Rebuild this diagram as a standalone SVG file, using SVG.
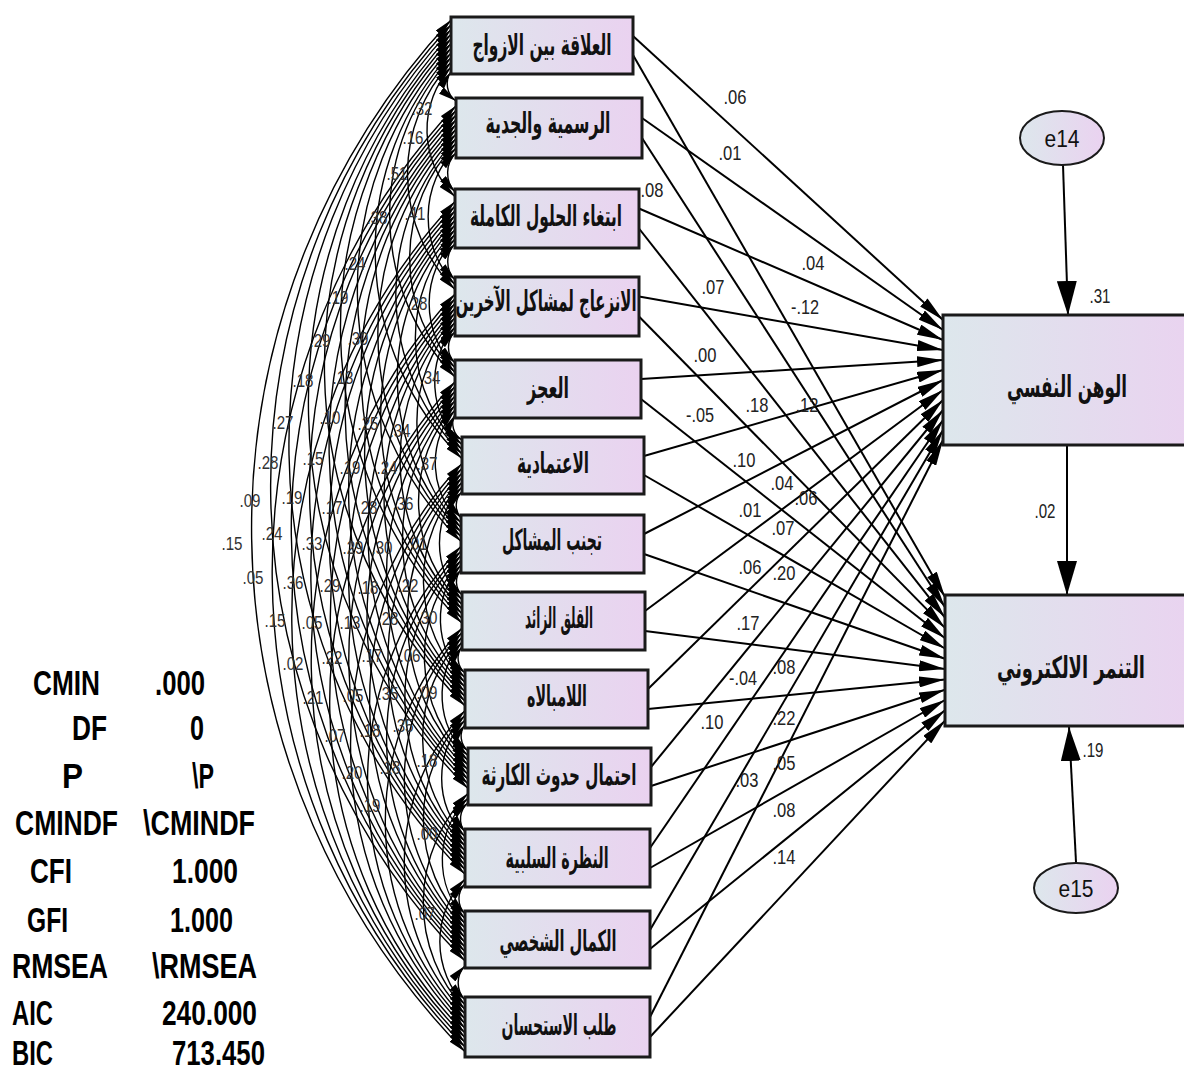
<svg xmlns="http://www.w3.org/2000/svg" width="1184" height="1070" viewBox="0 0 1184 1070">
<defs>
<linearGradient id="g" x1="0" y1="0" x2="1" y2="0"><stop offset="0" stop-color="#dde7ec"/><stop offset="1" stop-color="#ead2f0"/></linearGradient>
<marker id="ac" viewBox="0 0 18 8" refX="18" refY="4" markerWidth="18" markerHeight="8" markerUnits="userSpaceOnUse" orient="auto-start-reverse"><path d="M0,0 L18,4 L0,8 z" fill="#000"/></marker>
<marker id="ah" viewBox="0 0 26 11" refX="26" refY="5.5" markerWidth="26" markerHeight="11" markerUnits="userSpaceOnUse" orient="auto"><path d="M0,0 L26,5.5 L0,11 z" fill="#000"/></marker>
<marker id="ab" viewBox="0 0 34 20" refX="34" refY="10" markerWidth="34" markerHeight="20" markerUnits="userSpaceOnUse" orient="auto"><path d="M0,0 L34,10 L0,20 z" fill="#000"/></marker>
</defs>
<style>
.box{fill:url(#g);stroke:#1a1a1a;stroke-width:3}
.ell{fill:url(#g);stroke:#1a1a1a;stroke-width:2}
.ar{font-family:"DejaVu Sans","Noto Sans",sans-serif;font-weight:bold;font-size:29px;text-anchor:middle;fill:#111}
.arb{font-family:"DejaVu Sans","Noto Sans",sans-serif;font-weight:bold;font-size:30px;text-anchor:middle;fill:#111}
.cov{fill:none;stroke:#000;stroke-width:1.4;marker-start:url(#ac);marker-end:url(#ac)}
.reg{stroke:#000;stroke-width:2;marker-end:url(#ah)}
.big{stroke:#000;stroke-width:2;marker-end:url(#ab)}
.lb{font-family:"Liberation Sans",Arial,sans-serif;font-size:20px;fill:#222;text-anchor:middle}
.cl{font-family:"Liberation Sans",Arial,sans-serif;font-size:19px;fill:#333;text-anchor:middle}
.st{font-family:"Liberation Sans",Arial,sans-serif;font-size:35px;font-weight:bold;fill:#000}
.et{font-family:"Liberation Sans",Arial,sans-serif;font-size:24px;fill:#111;text-anchor:middle}
</style>
<rect width="1184" height="1070" fill="#fff"/>
<g id="connectors">
<g id="covariances">
<path class="cov" d="M451 71.7A21.2 21.2 0 0 0 456 101"/>
<path class="cov" d="M451 67A94 94 0 0 0 455 196.7"/>
<path class="cov" d="M451 62.3A164.6 164.6 0 0 0 455 289.4"/>
<path class="cov" d="M451 57.6A233.1 233.1 0 0 0 455 377.1"/>
<path class="cov" d="M451 52.9A294.3 294.3 0 0 0 462 458.8"/>
<path class="cov" d="M451 48.2A358 358 0 0 0 461 541.5"/>
<path class="cov" d="M451 43.5A420.3 420.3 0 0 0 462 623.2"/>
<path class="cov" d="M451 38.8A483.6 483.6 0 0 0 465 705.9"/>
<path class="cov" d="M451 34.1A547 547 0 0 0 468 788.6"/>
<path class="cov" d="M451 29.4A612.6 612.6 0 0 0 465 874.3"/>
<path class="cov" d="M451 24.7A678.8 678.8 0 0 0 465 961"/>
<path class="cov" d="M451 20A748 748 0 0 0 465 1051.7"/>
<path class="cov" d="M456 152.7A28.5 28.5 0 0 0 455 192"/>
<path class="cov" d="M456 148A99.1 99.1 0 0 0 455 284.7"/>
<path class="cov" d="M456 143.3A166 166 0 0 0 455 372.4"/>
<path class="cov" d="M456 138.6A228.7 228.7 0 0 0 462 454.1"/>
<path class="cov" d="M456 133.9A292 292 0 0 0 461 536.8"/>
<path class="cov" d="M456 129.2A354.7 354.7 0 0 0 462 618.5"/>
<path class="cov" d="M456 124.5A418.1 418.1 0 0 0 465 701.2"/>
<path class="cov" d="M456 119.8A481.5 481.5 0 0 0 468 783.9"/>
<path class="cov" d="M456 115.1A547 547 0 0 0 465 869.6"/>
<path class="cov" d="M456 110.4A613.3 613.3 0 0 0 465 956.3"/>
<path class="cov" d="M456 105.7A682.4 682.4 0 0 0 465 1047"/>
<path class="cov" d="M455 243.7A26.3 26.3 0 0 0 455 280"/>
<path class="cov" d="M455 239A93 93 0 0 0 455 367.7"/>
<path class="cov" d="M455 234.3A155.9 155.9 0 0 0 462 449.4"/>
<path class="cov" d="M455 229.6A219 219 0 0 0 461 532.1"/>
<path class="cov" d="M455 224.9A282 282 0 0 0 462 613.8"/>
<path class="cov" d="M455 220.2A345.3 345.3 0 0 0 465 696.5"/>
<path class="cov" d="M455 215.5A408.7 408.7 0 0 0 468 779.2"/>
<path class="cov" d="M455 210.8A474.2 474.2 0 0 0 465 864.9"/>
<path class="cov" d="M455 206.1A540.5 540.5 0 0 0 465 951.6"/>
<path class="cov" d="M455 201.4A609.7 609.7 0 0 0 465 1042.3"/>
<path class="cov" d="M455 331.7A22 22 0 0 0 455 363"/>
<path class="cov" d="M455 327A85.3 85.3 0 0 0 462 444.7"/>
<path class="cov" d="M455 322.3A148.7 148.7 0 0 0 461 527.4"/>
<path class="cov" d="M455 317.6A211.3 211.3 0 0 0 462 609.1"/>
<path class="cov" d="M455 312.9A274.7 274.7 0 0 0 465 691.8"/>
<path class="cov" d="M455 308.2A338.1 338.1 0 0 0 468 774.5"/>
<path class="cov" d="M455 303.5A403.6 403.6 0 0 0 465 860.2"/>
<path class="cov" d="M455 298.8A469.9 469.9 0 0 0 465 946.9"/>
<path class="cov" d="M455 294.1A539 539 0 0 0 465 1037.6"/>
<path class="cov" d="M455 414.7A19.1 19.1 0 0 0 462 440"/>
<path class="cov" d="M455 410A81.7 81.7 0 0 0 461 522.7"/>
<path class="cov" d="M455 405.3A144.3 144.3 0 0 0 462 604.4"/>
<path class="cov" d="M455 400.6A207.7 207.7 0 0 0 465 687.1"/>
<path class="cov" d="M455 395.9A271 271 0 0 0 468 769.8"/>
<path class="cov" d="M455 391.2A336.6 336.6 0 0 0 465 855.5"/>
<path class="cov" d="M455 386.5A402.9 402.9 0 0 0 465 942.2"/>
<path class="cov" d="M455 381.8A472 472 0 0 0 465 1032.9"/>
<path class="cov" d="M462 491.7A19.1 19.1 0 0 0 461 518"/>
<path class="cov" d="M462 487A81.7 81.7 0 0 0 462 599.7"/>
<path class="cov" d="M462 482.3A145.1 145.1 0 0 0 465 682.4"/>
<path class="cov" d="M462 477.6A208.4 208.4 0 0 0 468 765.1"/>
<path class="cov" d="M462 472.9A274 274 0 0 0 465 850.8"/>
<path class="cov" d="M462 468.2A340.2 340.2 0 0 0 465 937.5"/>
<path class="cov" d="M462 463.5A409.4 409.4 0 0 0 465 1028.2"/>
<path class="cov" d="M461 569.7A18.4 18.4 0 0 0 462 595"/>
<path class="cov" d="M461 565A81.7 81.7 0 0 0 465 677.7"/>
<path class="cov" d="M461 560.3A145.1 145.1 0 0 0 468 760.4"/>
<path class="cov" d="M461 555.6A210.6 210.6 0 0 0 465 846.1"/>
<path class="cov" d="M461 550.9A276.9 276.9 0 0 0 465 932.8"/>
<path class="cov" d="M461 546.2A346 346 0 0 0 465 1023.5"/>
<path class="cov" d="M462 646.7A19.1 19.1 0 0 0 465 673"/>
<path class="cov" d="M462 642A82.4 82.4 0 0 0 468 755.7"/>
<path class="cov" d="M462 637.3A148 148 0 0 0 465 841.4"/>
<path class="cov" d="M462 632.6A214.2 214.2 0 0 0 465 928.1"/>
<path class="cov" d="M462 627.9A283.4 283.4 0 0 0 465 1018.8"/>
<path class="cov" d="M465 724.7A19.2 19.2 0 0 0 468 751"/>
<path class="cov" d="M465 720A84.6 84.6 0 0 0 465 836.7"/>
<path class="cov" d="M465 715.3A150.9 150.9 0 0 0 465 923.4"/>
<path class="cov" d="M465 710.6A220 220 0 0 0 465 1014.1"/>
<path class="cov" d="M468 802.7A21.3 21.3 0 0 0 465 832"/>
<path class="cov" d="M468 798A87.5 87.5 0 0 0 465 918.7"/>
<path class="cov" d="M468 793.3A156.7 156.7 0 0 0 465 1009.4"/>
<path class="cov" d="M465 883.7A22 22 0 0 0 465 914"/>
<path class="cov" d="M465 879A91.1 91.1 0 0 0 465 1004.7"/>
<path class="cov" d="M465 965.7A24.9 24.9 0 0 0 465 1000"/>
</g>
<g id="paths">
<line class="reg" x1="633" y1="36" x2="943" y2="320"/>
<line class="reg" x1="633" y1="55" x2="945" y2="597"/>
<line class="reg" x1="642" y1="118" x2="943" y2="330"/>
<line class="reg" x1="642" y1="138" x2="945" y2="607.3"/>
<line class="reg" x1="639" y1="208.5" x2="943" y2="340"/>
<line class="reg" x1="639" y1="228.5" x2="945" y2="617.6"/>
<line class="reg" x1="639" y1="296.5" x2="943" y2="350"/>
<line class="reg" x1="639" y1="316.5" x2="945" y2="627.9"/>
<line class="reg" x1="641" y1="379" x2="943" y2="360"/>
<line class="reg" x1="641" y1="399" x2="945" y2="638.2"/>
<line class="reg" x1="644" y1="456" x2="943" y2="370"/>
<line class="reg" x1="644" y1="475" x2="945" y2="648.5"/>
<line class="reg" x1="644" y1="534" x2="943" y2="380"/>
<line class="reg" x1="644" y1="554" x2="945" y2="658.8"/>
<line class="reg" x1="645" y1="611" x2="943" y2="390"/>
<line class="reg" x1="645" y1="631" x2="945" y2="669.1"/>
<line class="reg" x1="648" y1="689" x2="943" y2="400"/>
<line class="reg" x1="648" y1="709" x2="945" y2="679.4"/>
<line class="reg" x1="651" y1="767" x2="943" y2="410"/>
<line class="reg" x1="651" y1="786" x2="945" y2="689.7"/>
<line class="reg" x1="650" y1="848" x2="943" y2="420"/>
<line class="reg" x1="650" y1="868" x2="945" y2="700"/>
<line class="reg" x1="650" y1="930" x2="943" y2="430"/>
<line class="reg" x1="650" y1="949" x2="945" y2="710.3"/>
<line class="reg" x1="650" y1="1017" x2="943" y2="440"/>
<line class="reg" x1="650" y1="1037" x2="945" y2="720.6"/>
<line class="big" x1="1063" y1="165" x2="1068" y2="315"/>
<line class="big" x1="1067" y1="445" x2="1067" y2="595"/>
<line class="big" x1="1076" y1="862" x2="1069" y2="727"/>
</g>
</g>
<g id="v1"><rect class="box" x="451" y="17" width="182" height="57"/><text class="ar" transform="translate(542 55) scale(0.6 1)" textLength="231.7" lengthAdjust="spacingAndGlyphs">العلاقة بين الازواج</text></g>
<g id="v2"><rect class="box" x="456" y="98" width="186" height="60"/><text class="ar" transform="translate(548 133) scale(0.6 1)" textLength="208.3" lengthAdjust="spacingAndGlyphs">الرسمية والجدية</text></g>
<g id="v3"><rect class="box" x="455" y="189" width="184" height="59"/><text class="ar" transform="translate(546 226) scale(0.6 1)" textLength="253.3" lengthAdjust="spacingAndGlyphs">ابتغاء الحلول الكاملة</text></g>
<g id="v4"><rect class="box" x="455" y="277" width="184" height="59"/><text class="ar" transform="translate(546 311) scale(0.6 1)" textLength="301.7" lengthAdjust="spacingAndGlyphs">الانزعاج لمشاكل الآخرين</text></g>
<g id="v5"><rect class="box" x="455" y="360" width="186" height="58"/><text class="ar" transform="translate(548 398) scale(0.6 1)" textLength="70" lengthAdjust="spacingAndGlyphs">العجز</text></g>
<g id="v6"><rect class="box" x="462" y="437" width="182" height="57"/><text class="ar" transform="translate(553 473) scale(0.6 1)" textLength="120" lengthAdjust="spacingAndGlyphs">الاعتمادية</text></g>
<g id="v7"><rect class="box" x="461" y="515" width="183" height="58"/><text class="ar" transform="translate(552 550) scale(0.6 1)" textLength="166.7" lengthAdjust="spacingAndGlyphs">تجنب المشاكل</text></g>
<g id="v8"><rect class="box" x="462" y="592" width="183" height="58"/><text class="ar" transform="translate(559 628) scale(0.6 1)" textLength="113.3" lengthAdjust="spacingAndGlyphs">القلق الزائد</text></g>
<g id="v9"><rect class="box" x="465" y="670" width="183" height="58"/><text class="ar" transform="translate(557 706) scale(0.6 1)" textLength="100" lengthAdjust="spacingAndGlyphs">اللامبالاه</text></g>
<g id="v10"><rect class="box" x="468" y="748" width="183" height="57"/><text class="ar" transform="translate(559 785) scale(0.6 1)" textLength="258.3" lengthAdjust="spacingAndGlyphs">احتمال حدوث الكارثة</text></g>
<g id="v11"><rect class="box" x="465" y="829" width="185" height="58"/><text class="ar" transform="translate(557 868) scale(0.6 1)" textLength="171.7" lengthAdjust="spacingAndGlyphs">النظرة السلبية</text></g>
<g id="v12"><rect class="box" x="465" y="911" width="185" height="57"/><text class="ar" transform="translate(558 951) scale(0.6 1)" textLength="195" lengthAdjust="spacingAndGlyphs">الكمال الشخصي</text></g>
<g id="v13"><rect class="box" x="465" y="997" width="185" height="60"/><text class="ar" transform="translate(559 1035) scale(0.6 1)" textLength="191.7" lengthAdjust="spacingAndGlyphs">طلب الاستحسان</text></g>
<g id="y1"><rect class="box" x="943" y="315" width="260" height="130"/><text class="arb" transform="translate(1067 397) scale(0.6 1)" textLength="200" lengthAdjust="spacingAndGlyphs">الوهن النفسي</text></g>
<g id="y2"><rect class="box" x="945" y="595" width="260" height="131"/><text class="arb" transform="translate(1071 678) scale(0.6 1)" textLength="246.7" lengthAdjust="spacingAndGlyphs">التنمر الالكتروني</text></g>
<g id="e14"><ellipse class="ell" cx="1062" cy="138" rx="42" ry="27"/><text class="et" x="1062" y="147" textLength="35" lengthAdjust="spacingAndGlyphs">e14</text></g>
<g id="e15"><ellipse class="ell" cx="1076" cy="888" rx="42" ry="25"/><text class="et" x="1076" y="897" textLength="35" lengthAdjust="spacingAndGlyphs">e15</text></g>
<g id="path-labels">
<text class="lb" x="735" y="104" textLength="23" lengthAdjust="spacingAndGlyphs">.06</text>
<text class="lb" x="730" y="160" textLength="23" lengthAdjust="spacingAndGlyphs">.01</text>
<text class="lb" x="652" y="197" textLength="23" lengthAdjust="spacingAndGlyphs">.08</text>
<text class="lb" x="813" y="270" textLength="23" lengthAdjust="spacingAndGlyphs">.04</text>
<text class="lb" x="713" y="294" textLength="23" lengthAdjust="spacingAndGlyphs">.07</text>
<text class="lb" x="805" y="314" textLength="28" lengthAdjust="spacingAndGlyphs">-.12</text>
<text class="lb" x="705" y="362" textLength="23" lengthAdjust="spacingAndGlyphs">.00</text>
<text class="lb" x="700" y="422" textLength="28" lengthAdjust="spacingAndGlyphs">-.05</text>
<text class="lb" x="757" y="412" textLength="23" lengthAdjust="spacingAndGlyphs">.18</text>
<text class="lb" x="807" y="412" textLength="23" lengthAdjust="spacingAndGlyphs">.12</text>
<text class="lb" x="744" y="467" textLength="23" lengthAdjust="spacingAndGlyphs">.10</text>
<text class="lb" x="782" y="490" textLength="23" lengthAdjust="spacingAndGlyphs">.04</text>
<text class="lb" x="806" y="505" textLength="23" lengthAdjust="spacingAndGlyphs">.06</text>
<text class="lb" x="750" y="517" textLength="23" lengthAdjust="spacingAndGlyphs">.01</text>
<text class="lb" x="783" y="535" textLength="23" lengthAdjust="spacingAndGlyphs">.07</text>
<text class="lb" x="750" y="574" textLength="23" lengthAdjust="spacingAndGlyphs">.06</text>
<text class="lb" x="784" y="580" textLength="23" lengthAdjust="spacingAndGlyphs">.20</text>
<text class="lb" x="748" y="630" textLength="23" lengthAdjust="spacingAndGlyphs">.17</text>
<text class="lb" x="743" y="685" textLength="28" lengthAdjust="spacingAndGlyphs">-.04</text>
<text class="lb" x="784" y="674" textLength="23" lengthAdjust="spacingAndGlyphs">.08</text>
<text class="lb" x="712" y="729" textLength="23" lengthAdjust="spacingAndGlyphs">.10</text>
<text class="lb" x="784" y="725" textLength="23" lengthAdjust="spacingAndGlyphs">.22</text>
<text class="lb" x="784" y="770" textLength="23" lengthAdjust="spacingAndGlyphs">.05</text>
<text class="lb" x="747" y="787" textLength="23" lengthAdjust="spacingAndGlyphs">.03</text>
<text class="lb" x="784" y="817" textLength="23" lengthAdjust="spacingAndGlyphs">.08</text>
<text class="lb" x="784" y="864" textLength="23" lengthAdjust="spacingAndGlyphs">.14</text>
<text class="lb" x="1100" y="303" textLength="21" lengthAdjust="spacingAndGlyphs">.31</text>
<text class="lb" x="1045" y="518" textLength="21" lengthAdjust="spacingAndGlyphs">.02</text>
<text class="lb" x="1093" y="757" textLength="21" lengthAdjust="spacingAndGlyphs">.19</text>
</g>
<g id="cov-labels">
<text class="cl" x="422" y="115" textLength="21" lengthAdjust="spacingAndGlyphs">.32</text>
<text class="cl" x="413" y="144" textLength="21" lengthAdjust="spacingAndGlyphs">.16</text>
<text class="cl" x="397" y="180" textLength="21" lengthAdjust="spacingAndGlyphs">.51</text>
<text class="cl" x="377" y="224" textLength="21" lengthAdjust="spacingAndGlyphs">.38</text>
<text class="cl" x="415" y="220" textLength="21" lengthAdjust="spacingAndGlyphs">.41</text>
<text class="cl" x="355" y="270" textLength="21" lengthAdjust="spacingAndGlyphs">.24</text>
<text class="cl" x="338" y="304" textLength="21" lengthAdjust="spacingAndGlyphs">.19</text>
<text class="cl" x="417" y="310" textLength="21" lengthAdjust="spacingAndGlyphs">.28</text>
<text class="cl" x="320" y="347" textLength="21" lengthAdjust="spacingAndGlyphs">.29</text>
<text class="cl" x="358" y="345" textLength="21" lengthAdjust="spacingAndGlyphs">.39</text>
<text class="cl" x="303" y="387" textLength="21" lengthAdjust="spacingAndGlyphs">.18</text>
<text class="cl" x="343" y="384" textLength="21" lengthAdjust="spacingAndGlyphs">.13</text>
<text class="cl" x="430" y="384" textLength="21" lengthAdjust="spacingAndGlyphs">.34</text>
<text class="cl" x="283" y="429" textLength="21" lengthAdjust="spacingAndGlyphs">.27</text>
<text class="cl" x="330" y="424" textLength="21" lengthAdjust="spacingAndGlyphs">.10</text>
<text class="cl" x="368" y="430" textLength="21" lengthAdjust="spacingAndGlyphs">.25</text>
<text class="cl" x="400" y="437" textLength="21" lengthAdjust="spacingAndGlyphs">.34</text>
<text class="cl" x="268" y="469" textLength="21" lengthAdjust="spacingAndGlyphs">.28</text>
<text class="cl" x="313" y="465" textLength="21" lengthAdjust="spacingAndGlyphs">.15</text>
<text class="cl" x="350" y="474" textLength="21" lengthAdjust="spacingAndGlyphs">.19</text>
<text class="cl" x="387" y="474" textLength="21" lengthAdjust="spacingAndGlyphs">.24</text>
<text class="cl" x="427" y="470" textLength="21" lengthAdjust="spacingAndGlyphs">.37</text>
<text class="cl" x="250" y="507" textLength="21" lengthAdjust="spacingAndGlyphs">.09</text>
<text class="cl" x="292" y="504" textLength="21" lengthAdjust="spacingAndGlyphs">.19</text>
<text class="cl" x="332" y="514" textLength="21" lengthAdjust="spacingAndGlyphs">.17</text>
<text class="cl" x="367" y="514" textLength="21" lengthAdjust="spacingAndGlyphs">.28</text>
<text class="cl" x="403" y="510" textLength="21" lengthAdjust="spacingAndGlyphs">.36</text>
<text class="cl" x="232" y="550" textLength="21" lengthAdjust="spacingAndGlyphs">.15</text>
<text class="cl" x="272" y="540" textLength="21" lengthAdjust="spacingAndGlyphs">.24</text>
<text class="cl" x="312" y="550" textLength="21" lengthAdjust="spacingAndGlyphs">.33</text>
<text class="cl" x="353" y="554" textLength="21" lengthAdjust="spacingAndGlyphs">.29</text>
<text class="cl" x="382" y="554" textLength="21" lengthAdjust="spacingAndGlyphs">.30</text>
<text class="cl" x="417" y="550" textLength="21" lengthAdjust="spacingAndGlyphs">.01</text>
<text class="cl" x="253" y="584" textLength="21" lengthAdjust="spacingAndGlyphs">.05</text>
<text class="cl" x="293" y="589" textLength="21" lengthAdjust="spacingAndGlyphs">.36</text>
<text class="cl" x="330" y="592" textLength="21" lengthAdjust="spacingAndGlyphs">.29</text>
<text class="cl" x="368" y="594" textLength="21" lengthAdjust="spacingAndGlyphs">.18</text>
<text class="cl" x="408" y="592" textLength="21" lengthAdjust="spacingAndGlyphs">.22</text>
<text class="cl" x="275" y="627" textLength="21" lengthAdjust="spacingAndGlyphs">.15</text>
<text class="cl" x="312" y="629" textLength="21" lengthAdjust="spacingAndGlyphs">.05</text>
<text class="cl" x="350" y="629" textLength="21" lengthAdjust="spacingAndGlyphs">.13</text>
<text class="cl" x="388" y="625" textLength="21" lengthAdjust="spacingAndGlyphs">.28</text>
<text class="cl" x="427" y="624" textLength="21" lengthAdjust="spacingAndGlyphs">.30</text>
<text class="cl" x="293" y="670" textLength="21" lengthAdjust="spacingAndGlyphs">.02</text>
<text class="cl" x="332" y="664" textLength="21" lengthAdjust="spacingAndGlyphs">.22</text>
<text class="cl" x="372" y="662" textLength="21" lengthAdjust="spacingAndGlyphs">.17</text>
<text class="cl" x="410" y="662" textLength="21" lengthAdjust="spacingAndGlyphs">.06</text>
<text class="cl" x="313" y="704" textLength="21" lengthAdjust="spacingAndGlyphs">.21</text>
<text class="cl" x="353" y="702" textLength="21" lengthAdjust="spacingAndGlyphs">.05</text>
<text class="cl" x="388" y="700" textLength="21" lengthAdjust="spacingAndGlyphs">.35</text>
<text class="cl" x="427" y="699" textLength="21" lengthAdjust="spacingAndGlyphs">.09</text>
<text class="cl" x="335" y="742" textLength="21" lengthAdjust="spacingAndGlyphs">.07</text>
<text class="cl" x="370" y="737" textLength="21" lengthAdjust="spacingAndGlyphs">.18</text>
<text class="cl" x="403" y="732" textLength="21" lengthAdjust="spacingAndGlyphs">.35</text>
<text class="cl" x="352" y="779" textLength="21" lengthAdjust="spacingAndGlyphs">.20</text>
<text class="cl" x="390" y="774" textLength="21" lengthAdjust="spacingAndGlyphs">.18</text>
<text class="cl" x="427" y="767" textLength="21" lengthAdjust="spacingAndGlyphs">.18</text>
<text class="cl" x="370" y="812" textLength="21" lengthAdjust="spacingAndGlyphs">.19</text>
<text class="cl" x="427" y="840" textLength="21" lengthAdjust="spacingAndGlyphs">.00</text>
<text class="cl" x="425" y="920" textLength="21" lengthAdjust="spacingAndGlyphs">.07</text>
</g>
<g id="fit-stats">
<text class="st" x="33" y="695" textLength="67" lengthAdjust="spacingAndGlyphs">CMIN</text>
<text class="st" x="155" y="695" textLength="50" lengthAdjust="spacingAndGlyphs">.000</text>
<text class="st" x="72" y="740" textLength="35" lengthAdjust="spacingAndGlyphs">DF</text>
<text class="st" x="190" y="740" textLength="14" lengthAdjust="spacingAndGlyphs">0</text>
<text class="st" x="62" y="788" textLength="21" lengthAdjust="spacingAndGlyphs">P</text>
<text class="st" x="192" y="788" textLength="22" lengthAdjust="spacingAndGlyphs">\P</text>
<text class="st" x="15" y="835" textLength="103" lengthAdjust="spacingAndGlyphs">CMINDF</text>
<text class="st" x="143" y="835" textLength="112" lengthAdjust="spacingAndGlyphs">\CMINDF</text>
<text class="st" x="30" y="883" textLength="42" lengthAdjust="spacingAndGlyphs">CFI</text>
<text class="st" x="172" y="883" textLength="66" lengthAdjust="spacingAndGlyphs">1.000</text>
<text class="st" x="27" y="932" textLength="41" lengthAdjust="spacingAndGlyphs">GFI</text>
<text class="st" x="170" y="932" textLength="63" lengthAdjust="spacingAndGlyphs">1.000</text>
<text class="st" x="12" y="978" textLength="96" lengthAdjust="spacingAndGlyphs">RMSEA</text>
<text class="st" x="152" y="978" textLength="105" lengthAdjust="spacingAndGlyphs">\RMSEA</text>
<text class="st" x="12" y="1025" textLength="41" lengthAdjust="spacingAndGlyphs">AIC</text>
<text class="st" x="162" y="1025" textLength="95" lengthAdjust="spacingAndGlyphs">240.000</text>
<text class="st" x="12" y="1065" textLength="41" lengthAdjust="spacingAndGlyphs">BIC</text>
<text class="st" x="172" y="1065" textLength="93" lengthAdjust="spacingAndGlyphs">713.450</text>
</g>
</svg>
